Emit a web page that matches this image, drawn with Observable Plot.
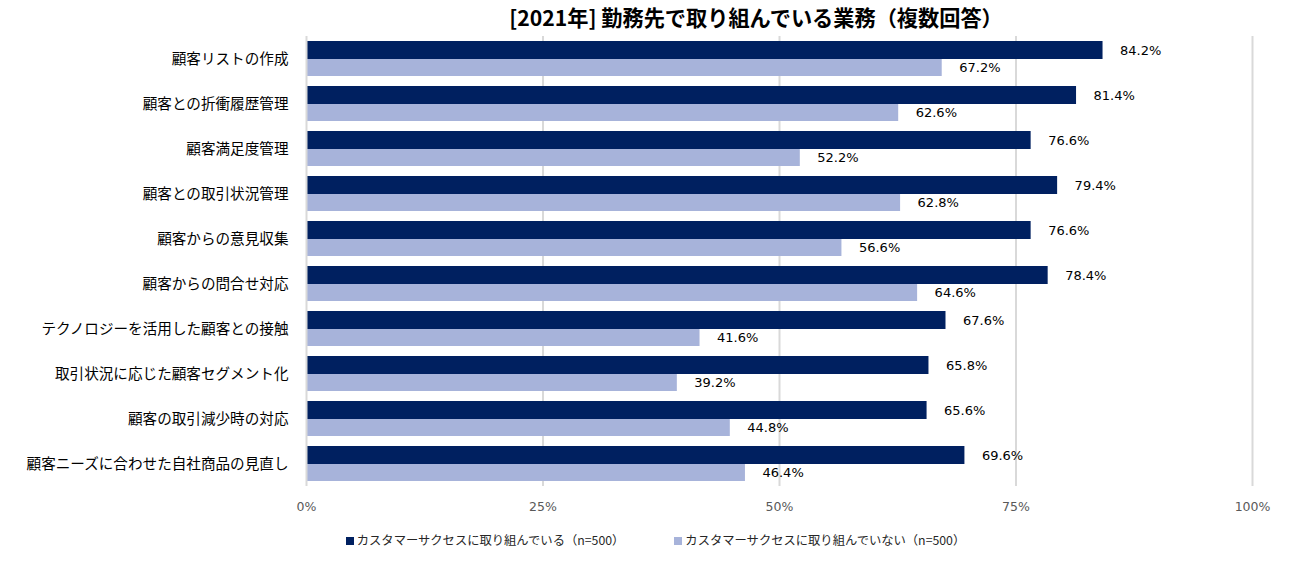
<!DOCTYPE html>
<html><head><meta charset="utf-8">
<script src="https://cdn.jsdelivr.net/npm/d3@7"></script>
<script src="https://cdn.jsdelivr.net/npm/@observablehq/plot@0.6"></script>
<style>
body{margin:0;background:#fff;font-family:"DejaVu Sans","Noto Sans CJK JP",sans-serif;}
#wrap{position:relative;width:1295px;height:565px;}
#title{position:absolute;top:3px;left:6px;width:1500px;text-align:center;font-size:21.2px;font-weight:bold;color:#000;font-family:"Noto Sans CJK JP",sans-serif;height:30px;line-height:28px;}
#chart{position:absolute;top:34px;left:0;}
#legend{position:absolute;top:531px;left:8px;width:1295px;text-align:center;font-size:12.3px;color:#262626;font-family:"Noto Sans CJK JP",sans-serif;}
.li{display:inline-block;margin:0 25px;}
.sw{display:inline-block;width:8px;height:8px;margin-right:3px;vertical-align:0px;}
</style></head>
<body><div id="wrap"><div id="title">[2021年] 勤務先で取り組んでいる業務（複数回答）</div><div id="chart"></div><div id="legend"></div></div>
<script>
const categories = ["顧客リストの作成","顧客との折衝履歴管理","顧客満足度管理","顧客との取引状況管理","顧客からの意見収集","顧客からの問合せ対応","テクノロジーを活用した顧客との接触","取引状況に応じた顧客セグメント化","顧客の取引減少時の対応","顧客ニーズに合わせた自社商品の見直し"];
const seriesNames = ["カスタマーサクセスに取り組んでいる（n=500）","カスタマーサクセスに取り組んでいない（n=500）"];
const doing = [84.2,81.4,76.6,79.4,76.6,78.4,67.6,65.8,65.6,69.6];
const notDoing = [67.2,62.6,52.2,62.8,56.6,64.6,41.6,39.2,44.8,46.4];
const xTicks = [0,25,50,75,100];
const colors = ["#002060","#a7b3da"];

const d1 = categories.map((c,i)=>({cat:c, v:doing[i]}));
const d2 = categories.map((c,i)=>({cat:c, v:notDoing[i]}));

const chart = Plot.plot({
  width:1295, height:490,
  marginLeft:306, marginRight:43, marginTop:2, marginBottom:38,
  style:{fontSize:"13px", fontFamily:"'Noto Sans CJK JP',sans-serif", color:"#262626", background:"#fff"},
  x:{domain:[0,100], ticks:xTicks, tickFormat:d=>d+"%", label:null},
  y:{domain:categories, padding:0, label:null},
  marks:[
    Plot.ruleX(xTicks.slice(1), {stroke:"#d9d9d9", strokeWidth:2}),
    Plot.barX(d1, {y:"cat", x:"v", fill:colors[0], insetTop:5, insetBottom:22}),
    Plot.barX(d2, {y:"cat", x:"v", fill:colors[1], insetTop:23, insetBottom:5}),
    Plot.ruleX([0], {stroke:"#d9d9d9", strokeWidth:2}),
    Plot.text(d1, {y:"cat", x:"v", text:d=>d.v.toFixed(1)+"%", textAnchor:"start", dx:17, dy:-8.5, fill:"#000", fontFamily:"'DejaVu Sans',sans-serif", fontSize:13}),
    Plot.text(d2, {y:"cat", x:"v", text:d=>d.v.toFixed(1)+"%", textAnchor:"start", dx:17, dy:9, fill:"#000", fontFamily:"'DejaVu Sans',sans-serif", fontSize:13}),
    Plot.axisY({tickSize:0, tickPadding:18, fontSize:14.6, fill:"#000"}),
    Plot.axisX({ticks:xTicks, tickFormat:d=>d+"%", tickSize:0, tickPadding:16, fill:"#595959", fontFamily:"'DejaVu Sans',sans-serif", fontSize:12.5, label:null})
  ]
});
document.getElementById("chart").appendChild(chart);
document.getElementById("legend").innerHTML = seriesNames.map((n,i)=>`<span class="li"><span class="sw" style="background:${colors[i]}"></span>${n}</span>`).join("");
</script></body></html>
